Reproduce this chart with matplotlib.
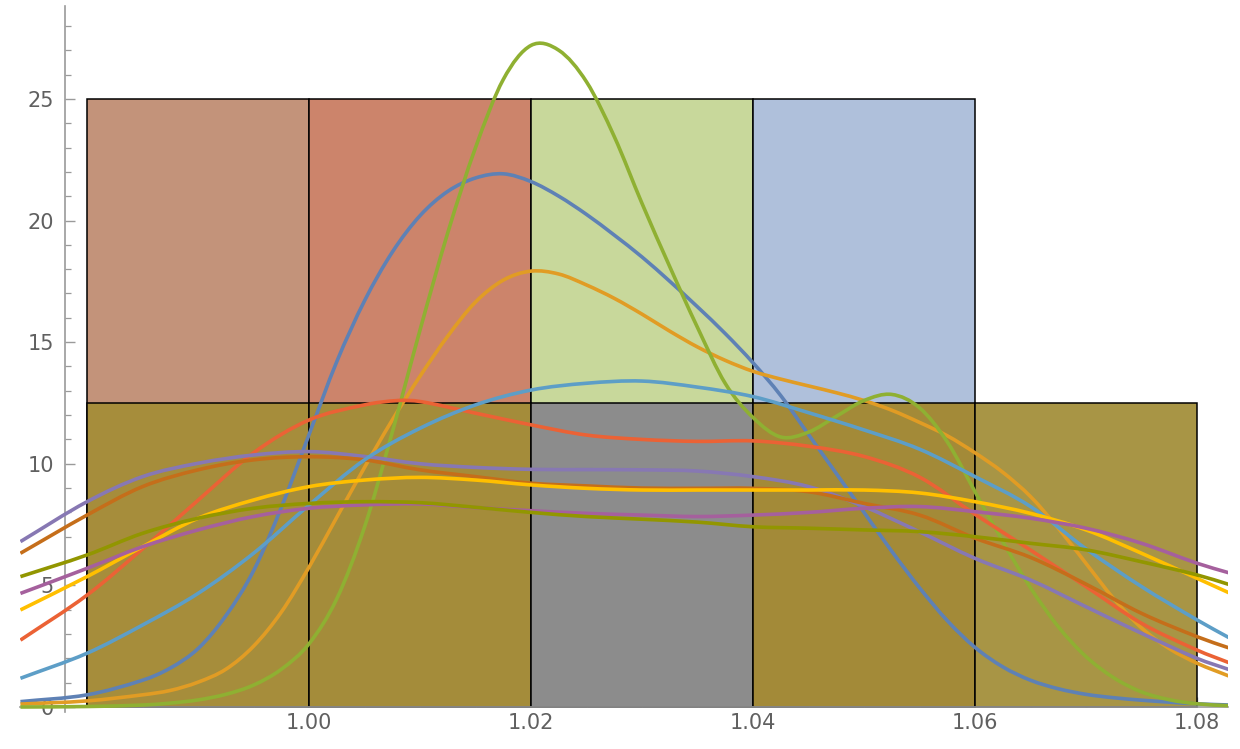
import numpy as np
import matplotlib
matplotlib.use("Agg")
import matplotlib.pyplot as plt
from matplotlib.path import Path
from matplotlib.patches import PathPatch
from matplotlib.ticker import MultipleLocator, FixedLocator

# ---------------- data ----------------
bin_edges = [0.98, 1.00, 1.02, 1.04, 1.06, 1.08]
upper_heights = [25, 25, 25, 25]
upper_colors = ["#C3937A", "#CC846B", "#C8D89B", "#AFC0DB"]
lower_heights = [12.5, 12.5, 12.5, 12.5, 12.5]
lower_colors = ["#A68D3B", "#A48C3A", "#8C8C8C", "#A38A38", "#A89545"]

x_major_ticks = [1.00, 1.02, 1.04, 1.06, 1.08]
x_tick_labels = ["1.00", "1.02", "1.04", "1.06", "1.08"]
y_major_ticks = [0, 5, 10, 15, 20, 25]
y_tick_labels = ["0", "5", "10", "15", "20", "25"]

fine_x = [0.974, 0.980, 0.985, 0.9875, 0.990, 0.9925, 0.995, 0.9975, 1.000, 1.0025,
          1.005, 1.0075, 1.010, 1.0125, 1.015, 1.0175, 1.020, 1.0225, 1.025, 1.0275,
          1.030, 1.0325, 1.035, 1.0375, 1.040, 1.0425, 1.045, 1.0475, 1.050, 1.0525,
          1.055, 1.0575, 1.060, 1.0625, 1.065, 1.0675, 1.070, 1.0725, 1.075, 1.0775,
          1.080, 1.083]

blue_y = [0.22, 0.5, 1.1, 1.6, 2.4, 3.75, 5.6, 8.2, 11.2, 14.2,
          16.7, 18.7, 20.2, 21.2, 21.75, 21.92, 21.6, 21.0, 20.25, 19.4,
          18.5, 17.5, 16.45, 15.35, 14.15, 12.8, 11.2, 9.6, 8.0, 6.4,
          4.9, 3.55, 2.45, 1.65, 1.1, 0.75, 0.52, 0.38, 0.28, 0.2,
          0.13, 0.08]

orange_y = [0.12, 0.25, 0.5, 0.68, 1.02, 1.55, 2.5, 3.9, 5.75, 7.8,
            9.85, 11.8, 13.6, 15.25, 16.65, 17.55, 17.92, 17.8, 17.35, 16.8,
            16.15, 15.45, 14.8, 14.25, 13.8, 13.48, 13.2, 12.92, 12.6, 12.2,
            11.7, 11.15, 10.45, 9.65, 8.65, 7.35, 5.9, 4.45, 3.25, 2.4,
            1.8, 1.25]

green_y = [0.0, 0.02, 0.08, 0.16, 0.29, 0.52, 0.9, 1.55, 2.6, 4.45,
           7.4, 11.3, 15.5, 19.5, 23.0, 25.8, 27.2, 27.0, 25.7, 23.45,
           20.7, 18.1, 15.6, 13.3, 11.9, 11.1, 11.3, 11.95, 12.6, 12.85,
           12.3, 10.9, 8.85, 6.8, 4.9, 3.3, 2.07, 1.2, 0.62, 0.3,
           0.13, 0.05]

red_x = [0.974, 0.980, 0.985, 0.990, 0.995, 1.000, 1.005, 1.008, 1.010, 1.015, 1.020,
         1.025, 1.030, 1.035, 1.040, 1.045, 1.050, 1.055, 1.060, 1.065, 1.070, 1.075,
         1.080, 1.083]
red_y = [2.75, 4.6, 6.5, 8.5, 10.45, 11.8, 12.42, 12.6, 12.56, 12.08, 11.6,
         11.18, 11.0, 10.92, 10.94, 10.72, 10.3, 9.45, 7.92, 6.45, 4.95, 3.44,
         2.34, 1.8]

grid_x = [0.974, 0.980, 0.985, 0.990, 0.995, 1.000, 1.005, 1.010, 1.015, 1.020, 1.025,
          1.030, 1.035, 1.040, 1.045, 1.050, 1.055, 1.060, 1.065, 1.070, 1.075, 1.080, 1.083]

purple_y = [6.8, 8.44, 9.47, 10.02, 10.36, 10.5, 10.3, 10.0, 9.85, 9.77, 9.76,
            9.75, 9.7, 9.47, 9.06, 8.24, 7.2, 6.11, 5.22, 4.12, 3.03, 2.0, 1.52]

darkorange_y = [6.32, 7.89, 9.06, 9.75, 10.16, 10.29, 10.16, 9.75, 9.47, 9.2, 9.09,
                9.0, 8.99, 8.99, 8.85, 8.37, 7.89, 6.94, 6.15, 5.05, 3.85, 2.89, 2.41]

lightblue_y = [1.18, 2.21, 3.37, 4.67, 6.32, 8.3, 10.16, 11.46, 12.42, 13.03, 13.31,
               13.4, 13.15, 12.76, 12.1, 11.39, 10.6, 9.47, 8.24, 6.5, 4.95, 3.58, 2.82]

yellow_y = [3.99, 5.36, 6.59, 7.76, 8.51, 9.06, 9.33, 9.44, 9.33, 9.13, 8.99,
            8.92, 8.92, 8.92, 8.92, 8.92, 8.8, 8.44, 7.96, 7.28, 6.32, 5.29, 4.67]

magenta_y = [4.67, 5.7, 6.59, 7.28, 7.83, 8.17, 8.31, 8.35, 8.2, 8.07, 7.96,
             7.89, 7.83, 7.89, 8.0, 8.17, 8.24, 8.03, 7.76, 7.35, 6.73, 5.91, 5.5]

olive_y = [5.36, 6.25, 7.14, 7.76, 8.17, 8.37, 8.44, 8.4, 8.21, 8.0, 7.83,
           7.72, 7.6, 7.41, 7.35, 7.28, 7.21, 7.0, 6.73, 6.46, 5.97, 5.43, 5.02]

series = [
    (fine_x, blue_y, "#5E81B5"),
    (fine_x, orange_y, "#E19C24"),
    (fine_x, green_y, "#8FB032"),
    (red_x, red_y, "#EB6235"),
    (grid_x, purple_y, "#8778B3"),
    (grid_x, darkorange_y, "#C56E1A"),
    (grid_x, lightblue_y, "#5D9EC7"),
    (grid_x, yellow_y, "#FFBF00"),
    (grid_x, magenta_y, "#A5609D"),
    (grid_x, olive_y, "#929600"),
]


def smooth_path(xs, ys):
    xs = np.asarray(xs, float)
    ys = np.asarray(ys, float)
    n = len(xs)
    m = np.zeros(n)
    for i in range(n):
        if i == 0:
            m[i] = (ys[1] - ys[0]) / (xs[1] - xs[0])
        elif i == n - 1:
            m[i] = (ys[-1] - ys[-2]) / (xs[-1] - xs[-2])
        else:
            m[i] = (ys[i + 1] - ys[i - 1]) / (xs[i + 1] - xs[i - 1])
    verts = [(xs[0], ys[0])]
    codes = [Path.MOVETO]
    for i in range(n - 1):
        h = xs[i + 1] - xs[i]
        verts += [(xs[i] + h / 3, ys[i] + m[i] * h / 3),
                  (xs[i + 1] - h / 3, ys[i + 1] - m[i + 1] * h / 3),
                  (xs[i + 1], ys[i + 1])]
        codes += [Path.CURVE4] * 3
    return Path(verts, codes)


# ---------------- figure ----------------
fig = plt.figure(figsize=(12.4, 7.49), dpi=100)
xmin, xmax = 0.97396, 1.08279
ymin, ymax = -0.206, 28.82
ax = fig.add_axes([20 / 1240, 37 / 749, 1208 / 1240, 706 / 749])
ax.set_xlim(xmin, xmax)
ax.set_ylim(ymin, ymax)
ax.patch.set_alpha(0)

widths = np.diff(bin_edges)
lefts = np.array(bin_edges[:-1])
ax.bar(lefts[:len(upper_heights)], upper_heights, width=widths[:len(upper_heights)],
       align="edge", color=upper_colors, edgecolor="black", linewidth=1.1, zorder=1)
ax.bar(lefts, lower_heights, width=widths, align="edge", color=lower_colors,
       edgecolor="black", linewidth=1.1, zorder=2)

for i, (xs, ys, col) in enumerate(series):
    p = PathPatch(smooth_path(xs, ys), facecolor="none", edgecolor=col,
                  linewidth=2.6, zorder=5 + i, capstyle="butt", joinstyle="round")
    ax.add_patch(p)

axis_col = "#9a9a9a"
for s in ["top", "right"]:
    ax.spines[s].set_visible(False)
ax.spines["left"].set_position(("data", 0.978))
ax.spines["bottom"].set_position(("data", 0))
ax.spines["left"].set_color(axis_col)
ax.spines["bottom"].set_color(axis_col)
ax.spines["left"].set_linewidth(1.2)
ax.spines["bottom"].set_linewidth(1.2)
ax.spines["left"].set_zorder(3)
ax.spines["bottom"].set_zorder(3)

ax.xaxis.set_major_locator(FixedLocator(x_major_ticks))
ax.set_xticklabels(x_tick_labels)
ax.xaxis.set_minor_locator(FixedLocator(list(np.arange(0.98, 1.0801, 0.005))))
ax.yaxis.set_major_locator(FixedLocator(y_major_ticks))
ax.set_yticklabels(y_tick_labels)
ax.yaxis.set_minor_locator(MultipleLocator(1))

ax.tick_params(axis="both", which="major", direction="in", length=7, width=1.0,
               color=axis_col, labelcolor="#606060", labelsize=15)
ax.tick_params(axis="both", which="minor", direction="in", length=4, width=0.9,
               color=axis_col)
ax.tick_params(axis="x", which="major", pad=4)
ax.tick_params(axis="y", which="major", pad=8)

fig.savefig("out.png", dpi=100)
